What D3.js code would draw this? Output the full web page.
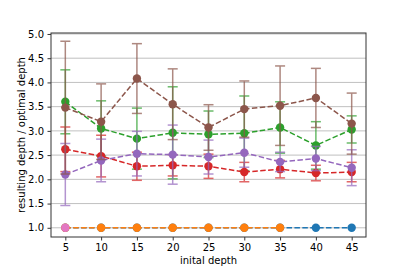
<!DOCTYPE html>
<html>
<head>
<meta charset="utf-8">
<script src="https://cdn.jsdelivr.net/npm/d3@7"></script>
<style>
body { margin: 0; background: #fff; }
text { font-family: "DejaVu Sans", sans-serif; }
</style>
</head>
<body>
<div id="svgholder"></div>
<script>

// initial depths on the x axis
var depths = [5, 10, 15, 20, 25, 30, 35, 40, 45]

// series values (mean ratio) and error (+/-)
var blue_mean = [1, 1, 1, 1, 1, 1, 1, 1, 1]
var blue_err = [0, 0, 0, 0, 0, 0, 0, 0, 0]
var orange_mean = [1, 1, 1, 1, 1, 1, 1]
var orange_err = [0, 0, 0, 0, 0, 0, 0]
var green_mean = [3.60, 3.05, 2.84, 2.96, 2.93, 2.95, 3.07, 2.70, 3.03]
var green_err = [0.66, 0.57, 0.63, 0.95, 0.48, 0.77, 0.53, 0.49, 0.28]
var red_mean = [2.62, 2.48, 2.27, 2.29, 2.27, 2.15, 2.21, 2.13, 2.15]
var red_err = [0.46, 0.43, 0.29, 0.22, 0.25, 0.20, 0.18, 0.16, 0.20]
var purple_mean = [2.10, 2.39, 2.53, 2.51, 2.46, 2.55, 2.36, 2.43, 2.24]
var purple_err = [0.64, 0.44, 0.46, 0.61, 0.35, 0.30, 0.20, 0.25, 0.37]
var brown_mean = [3.48, 3.19, 4.08, 3.55, 3.07, 3.45, 3.52, 3.68, 3.15]
var brown_err = [1.37, 0.78, 0.72, 0.73, 0.47, 0.58, 0.82, 0.61, 0.63]
var pink_mean = [1]
var pink_err = [0]

var x_ticks = [5, 10, 15, 20, 25, 30, 35, 40, 45]
var y_ticks = [1.0, 1.5, 2.0, 2.5, 3.0, 3.5, 4.0, 4.5, 5.0]

// draw order matters, later series sit on top
var series = [
    {colour: "#1f77b4", mean: blue_mean, err: blue_err},
    {colour: "#ff7f0e", mean: orange_mean, err: orange_err},
    {colour: "#2ca02c", mean: green_mean, err: green_err},
    {colour: "#d62728", mean: red_mean, err: red_err},
    {colour: "#9467bd", mean: purple_mean, err: purple_err},
    {colour: "#8c564b", mean: brown_mean, err: brown_err},
    {colour: "#e377c2", mean: pink_mean, err: pink_err}
]

var outerWidth = 407,
    outerHeight = 271
var margin = {top: 33, right: 41, bottom: 34, left: 51}
var width = outerWidth - margin.left - margin.right,
    height = outerHeight - margin.top - margin.bottom

var svg = d3.select("#svgholder")
    .append("svg")
    .attr("width", outerWidth)
    .attr("height", outerHeight)

var g = svg.append("g")
    .attr("transform", "translate(" + margin.left + "," + margin.top + ")")

var x = d3.scaleLinear().domain([3, 47]).range([0, width])
var y = d3.scaleLinear().domain([0.81, 5.02]).range([height, 0])

// horizontal grid only
g.append("g")
    .selectAll("line")
    .data(y_ticks)
    .enter()
    .append("line")
    .attr("x1", 0)
    .attr("x2", width)
    .attr("y1", function(d) { return y(d) })
    .attr("y2", function(d) { return y(d) })
    .attr("stroke", "#b0b0b0")
    .attr("stroke-width", 0.8)

var xAxis = g.append("g")
    .attr("transform", "translate(0," + height + ")")
    .call(d3.axisBottom(x).tickValues(x_ticks).tickSize(3.5).tickPadding(3.5).tickFormat(d3.format("d")))

var yAxis = g.append("g")
    .call(d3.axisLeft(y).tickValues(y_ticks).tickSize(3.5).tickPadding(3.5).tickFormat(d3.format(".1f")))

;[xAxis, yAxis].forEach(function(a) {
    a.select(".domain").remove()
    a.selectAll("text").attr("font-size", "10px").attr("fill", "#000")
        .style("font-family", "DejaVu Sans, sans-serif")
    a.selectAll("line").attr("stroke", "#000").attr("stroke-width", 0.8)
})

// clip so nothing leaks out of the axes box
svg.append("defs").append("clipPath").attr("id", "clip")
    .append("rect").attr("width", width).attr("height", height)

var plot = g.append("g").attr("clip-path", "url(#clip)")

var line = d3.line()
    .x(function(d) { return x(d.x) })
    .y(function(d) { return y(d.y) })

var cap = 5

series.forEach(function(s) {
    var pts = s.mean.map(function(m, i) {
        return {x: depths[i], y: m, e: s.err[i]}
    })
    var sg = plot.append("g")

    // error bars, a bit faded like in the original
    var eb = sg.append("g").attr("stroke", s.colour).attr("stroke-width", 1.5).attr("opacity", 0.7)
    pts.forEach(function(p) {
        if (p.e <= 0) return
        eb.append("line")
            .attr("x1", x(p.x)).attr("x2", x(p.x))
            .attr("y1", y(p.y - p.e)).attr("y2", y(p.y + p.e))
        eb.append("line")
            .attr("x1", x(p.x) - cap).attr("x2", x(p.x) + cap)
            .attr("y1", y(p.y + p.e)).attr("y2", y(p.y + p.e))
        eb.append("line")
            .attr("x1", x(p.x) - cap).attr("x2", x(p.x) + cap)
            .attr("y1", y(p.y - p.e)).attr("y2", y(p.y - p.e))
    })

    sg.append("path")
        .datum(pts)
        .attr("d", line)
        .attr("fill", "none")
        .attr("stroke", s.colour)
        .attr("stroke-width", 1.5)
        .attr("stroke-dasharray", "5.5,2.4")

    sg.selectAll("circle")
        .data(pts)
        .enter()
        .append("circle")
        .attr("cx", function(d) { return x(d.x) })
        .attr("cy", function(d) { return y(d.y) })
        .attr("r", 4.2)
        .attr("fill", s.colour)
})

// frame
g.append("rect")
    .attr("width", width)
    .attr("height", height)
    .attr("fill", "none")
    .attr("stroke", "#333")
    .attr("stroke-width", 1)

// axis labels
svg.append("text")
    .attr("x", margin.left + width / 2)
    .attr("y", 264)
    .attr("text-anchor", "middle")
    .attr("font-size", "10px")
    .text("inital depth")

svg.append("text")
    .attr("transform", "translate(25," + (margin.top + height / 2) + ") rotate(-90)")
    .attr("text-anchor", "middle")
    .attr("font-size", "10px")
    .text("resulting depth / optimal depth")

</script>
</body>
</html>
